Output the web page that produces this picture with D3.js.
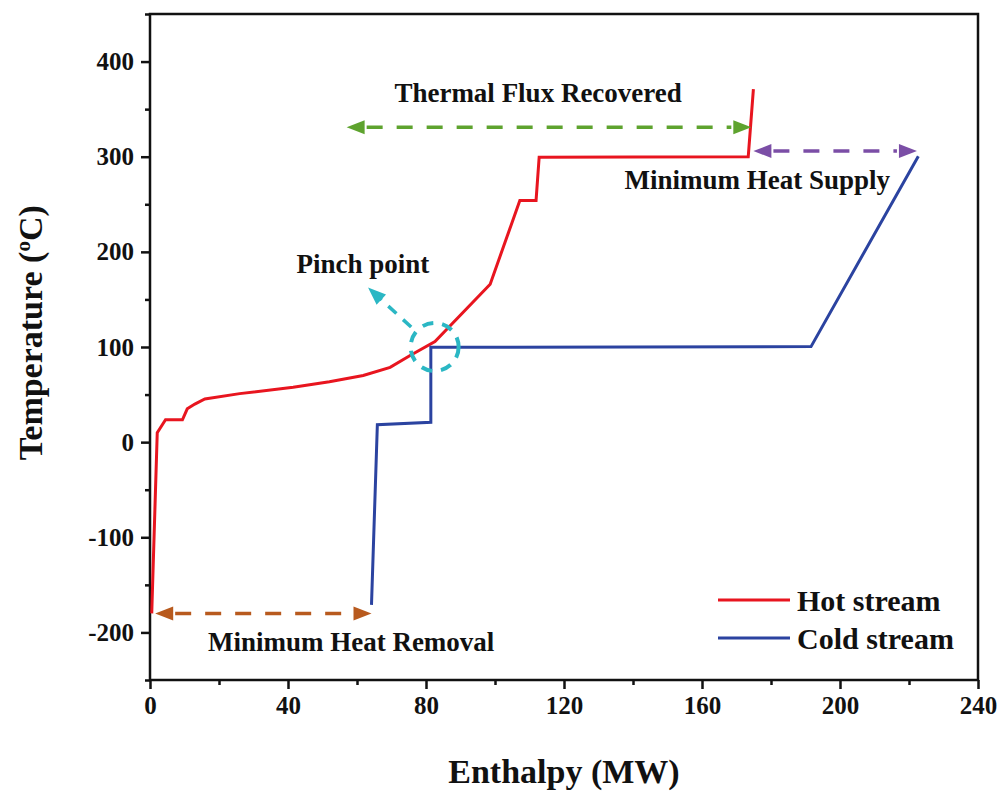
<!DOCTYPE html>
<html lang="en">
<head>
<meta charset="UTF-8">
<title>Composite curves</title>
<script src="https://cdn.jsdelivr.net/npm/d3@7"></script>
<style>
  body { margin: 0; background: #fff; }
  text { font-family: "Liberation Serif", "Times New Roman", serif; font-weight: bold; fill: #111; }
</style>
</head>
<body>
<svg id="chart" width="1004" height="791"></svg>
<script>
// hot composite curve [enthalpy MW, temperature C]
const hotStream = [
  [0.5, -180], [2.1, 10], [4.5, 23.5], [9.4, 23.5], [10.8, 35], [13, 40],
  [15.9, 45.4], [26, 51], [41.5, 57.6], [52, 63.5], [61.8, 70], [69.6, 78.6],
  [75.4, 91], [82.6, 105.7], [98.6, 166], [107.2, 254], [111.9, 254],
  [112.8, 299.5], [140, 299.7], [173.4, 300], [174.9, 371]
];
// cold composite curve
const coldStream = [
  [64.2, -171], [65.9, 18.4], [81.4, 20.8], [81.4, 99.7], [82.1, 99.7],
  [140, 100], [191.6, 100.4], [222.7, 300.5]
];
const xTicks = [0, 40, 80, 120, 160, 200, 240];
const yTicks = [-200, -100, 0, 100, 200, 300, 400];

// dashed double-headed arrows
const arrows = [
  { x1: 57, x2: 174.3, y: 331, color: "#5ea32e" },
  { x1: 174.9, x2: 222.3, y: 306, color: "#7b4ea6" },
  { x1: 1.5, x2: 64.2, y: -180, color: "#b85a1e" }
];
const labels = [
  { text: "Thermal Flux Recovered", x: 112.5, y: 357 },
  { text: "Minimum Heat Supply", x: 176, y: 266.5 },
  { text: "Pinch point", x: 61.7, y: 178 },
  { text: "Minimum Heat Removal", x: 58.3, y: -219 }
];

const svg = d3.select("#chart");
const margin = { left: 150, right: 26, top: 14, bottom: 111 };
const W = 1004 - margin.left - margin.right;
const H = 791 - margin.top - margin.bottom;

const x = d3.scaleLinear().domain([0, 240]).range([margin.left, margin.left + W]);
const y = d3.scaleLinear().domain([-250, 450]).range([margin.top + H, margin.top]);

const g = svg.append("g");

// frame
g.append("rect")
  .attr("x", margin.left).attr("y", margin.top)
  .attr("width", W).attr("height", H)
  .attr("fill", "none").attr("stroke", "#111").attr("stroke-width", 2.5);

const fmt = d => String(d); // plain hyphen minus like the original

// x axis
g.append("g").attr("transform", `translate(0,${margin.top + H})`)
  .call(d3.axisBottom(x).tickValues(xTicks).tickSize(9).tickSizeOuter(0).tickPadding(7).tickFormat(fmt));
g.append("g").attr("transform", `translate(0,${margin.top + H})`)
  .call(d3.axisBottom(x).tickValues(d3.range(20, 240, 40)).tickSize(5).tickSizeOuter(0).tickFormat(""));

// y axis
g.append("g").attr("transform", `translate(${margin.left},0)`)
  .call(d3.axisLeft(y).tickValues(yTicks).tickSize(9).tickSizeOuter(0).tickPadding(7).tickFormat(fmt));
g.append("g").attr("transform", `translate(${margin.left},0)`)
  .call(d3.axisLeft(y).tickValues(d3.range(-250, 451, 100)).tickSize(5).tickSizeOuter(0).tickFormat(""));

g.selectAll(".domain").remove();
g.selectAll(".tick line").attr("stroke", "#111").attr("stroke-width", 2.5);
g.selectAll(".tick text").style("font-size", "25px").style("font-family", "Liberation Serif, serif")
  .style("font-weight", "bold").attr("fill", "#111");

// axis titles
svg.append("text").attr("x", x(120)).attr("y", 783)
  .attr("text-anchor", "middle").style("font-size", "34px").text("Enthalpy (MW)");
const yt = svg.append("text")
  .attr("transform", `translate(42,${y(115)}) rotate(-90)`)
  .attr("text-anchor", "middle").style("font-size", "34px");
yt.append("tspan").text("Temperature (");
yt.append("tspan").attr("dy", -12).style("font-size", "21px").text("o");
yt.append("tspan").attr("dy", 12).text("C)");

// curves
const line = d3.line().x(d => x(d[0])).y(d => y(d[1]));
g.append("path").datum(hotStream).attr("d", line)
  .attr("fill", "none").attr("stroke", "#e8151f").attr("stroke-width", 3);
g.append("path").datum(coldStream).attr("d", line)
  .attr("fill", "none").attr("stroke", "#2b43a0").attr("stroke-width", 3);

// arrows
function arrowHead(px, py, angle, color) {
  const L = 18, w = 7;
  const c = Math.cos(angle), s = Math.sin(angle);
  const pts = [[0, 0], [-L, -w], [-L, w]].map(p => [px + p[0] * c - p[1] * s, py + p[0] * s + p[1] * c]);
  g.append("polygon").attr("points", pts.map(p => p.join(",")).join(" ")).attr("fill", color);
}
arrows.forEach(a => {
  const X1 = x(a.x1), X2 = x(a.x2), Y = y(a.y);
  g.append("line").attr("x1", X1 + 20).attr("x2", X2 - 20).attr("y1", Y).attr("y2", Y)
    .attr("stroke", a.color).attr("stroke-width", 3.5).attr("stroke-dasharray", "16,14");
  arrowHead(X1, Y, Math.PI, a.color);
  arrowHead(X2, Y, 0, a.color);
});

// pinch point marker
const pinch = { x: 82.5, y: 100 };
const cyan = "#2bb7c4";
g.append("circle").attr("cx", x(pinch.x)).attr("cy", y(pinch.y)).attr("r", 24)
  .attr("fill", "none").attr("stroke", cyan).attr("stroke-width", 4).attr("stroke-dasharray", "11,9");
const pa = { x1: 75.7, y1: 121, x2: 63.2, y2: 162.5 };
const ang = Math.atan2(y(pa.y2) - y(pa.y1), x(pa.x2) - x(pa.x1));
g.append("line")
  .attr("x1", x(pa.x1)).attr("y1", y(pa.y1))
  .attr("x2", x(pa.x2) - 14 * Math.cos(ang)).attr("y2", y(pa.y2) - 14 * Math.sin(ang))
  .attr("stroke", cyan).attr("stroke-width", 3.5).attr("stroke-dasharray", "11,9");
arrowHead(x(pa.x2), y(pa.y2), ang, cyan);

// annotation labels
labels.forEach(l => {
  svg.append("text").attr("x", x(l.x)).attr("y", y(l.y))
    .attr("text-anchor", "middle").style("font-size", "27px").text(l.text);
});

// legend
const legend = [
  { name: "Hot stream", color: "#e8151f" },
  { name: "Cold stream", color: "#2b43a0" }
];
legend.forEach((d, i) => {
  const ly = 600 + i * 38;
  svg.append("line").attr("x1", 718).attr("x2", 790).attr("y1", ly).attr("y2", ly)
    .attr("stroke", d.color).attr("stroke-width", 3);
  svg.append("text").attr("x", 797).attr("y", ly + 11).style("font-size", "30px").text(d.name);
});
</script>
</body>
</html>
